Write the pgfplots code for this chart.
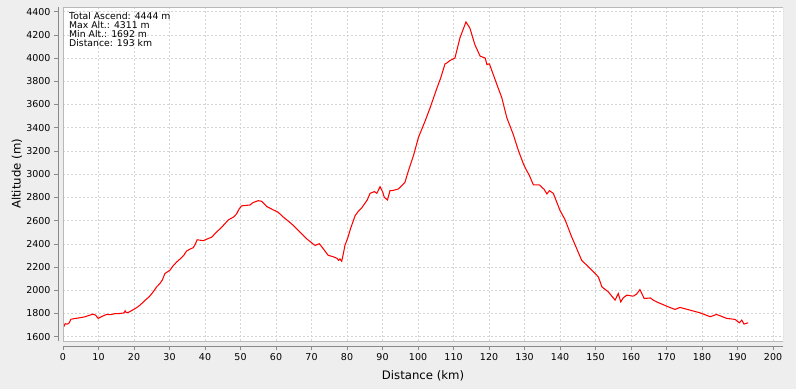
\documentclass[border=0pt]{standalone}
\usepackage{fontspec}
\setmainfont{DejaVu Sans}
\usepackage{pgfplots}
\pgfplotsset{compat=1.18}
\definecolor{bg}{HTML}{EEEEEE}
\definecolor{gridc}{HTML}{D4D4D4}
\definecolor{axc}{HTML}{8A8A8A}
\begin{document}
\begin{tikzpicture}[x=1pt,y=1pt]
\fill[bg] (0,0) rectangle (796,389);
\begin{axis}[
  at={(63pt,48pt)}, anchor=south west,
  width=720pt, height=334pt, scale only axis,
  xmin=0, xmax=202.8, ymin=1563, ymax=4440,
  axis background/.style={fill=white},
  axis lines*=left,
  axis x line shift=5pt, axis y line shift=5pt,
  axis line style={draw=axc, line width=0.8pt, -},
  xtick={0,10,...,200}, ytick={1600,1800,...,4400},
  tick align=outside, major tick length=4pt,
  tick style={draw=axc, line width=0.6pt},
  grid=major,
  major grid style={draw=gridc, dash pattern=on 2pt off 2pt, line width=0.5pt},
  /pgf/number format/assume math mode=true,
  /pgf/number format/1000 sep={},
  tick label style={font=\fontsize{9.5}{10}\selectfont, text=black},
  xlabel={Distance (km)}, ylabel={Altitude (m)},
  every axis x label/.style={at={(axis description cs:0.5,0)}, anchor=center, yshift=-35pt, font=\fontsize{11.7}{13}\selectfont},
  every axis y label/.style={at={(axis description cs:0,0.5)}, xshift=-46pt, rotate=90, anchor=center, font=\fontsize{11.7}{13}\selectfont},
  clip=true,
]
\addplot[red, line width=1.05pt] coordinates {
(0,1710) (0.3,1692) (0.6,1712) (1.2,1708) (1.8,1720) (2.2,1750) (3,1755) (4.5,1762)
(6,1770) (7.6,1786) (8.5,1795) (9.2,1785) (9.9,1758) (11,1775) (12.3,1792) (13.5,1790)
(14.5,1798) (16,1800) (17.2,1805) (17.5,1823) (17.8,1808) (18.4,1809) (19.5,1828)
(20.5,1845) (21.7,1872) (23,1910) (24.3,1945) (25.4,1986) (26.4,2030) (27.3,2058)
(28,2090) (28.7,2144) (30.1,2172) (31,2210) (32,2243) (33,2270) (34,2300) (34.8,2338)
(35.8,2355) (36.7,2367) (37.3,2400) (37.8,2435) (39.5,2427) (40.5,2440) (41.9,2458)
(43.2,2500) (44.7,2543) (46.6,2607) (48,2630) (48.9,2658) (49.6,2700) (50.3,2727)
(52.7,2735) (53.5,2755) (55,2772) (56,2766) (57.4,2721) (59.2,2693) (60.6,2672)
(62.1,2629) (63.5,2595) (64.9,2558) (66.8,2500) (68.6,2444) (70,2410) (71,2386)
(72.2,2401) (73,2370) (74.7,2301) (76,2290) (77.2,2275) (77.6,2258) (78,2270)
(78.5,2250) (79,2320) (79.4,2386) (80.2,2450) (81,2532) (82.3,2644) (83.2,2680)
(84.2,2712) (85.7,2778) (86.5,2835) (87.7,2850) (88.4,2835) (89.3,2892) (90,2850)
(90.5,2801) (91.4,2778) (92.1,2858) (93,2860) (94.5,2873) (96.3,2929) (97.3,3030)
(98.7,3158) (100.1,3315) (102,3458) (103.4,3572) (105.3,3739) (106.4,3830)
(107.6,3950) (108.1,3958) (109,3979) (110.4,4001) (111.8,4173) (113.5,4311)
(114.6,4259) (116,4116) (117.5,4016) (118.9,4001) (119.4,3945) (120.1,3950)
(122.2,3773) (123.6,3658) (125,3487) (126.8,3344) (128.3,3201) (129.7,3087)
(130.6,3030) (131.2,3000) (132.5,2907) (134.2,2907) (135.5,2870) (136.3,2830)
(137,2858) (138.1,2835) (140,2687) (141.4,2609) (143.3,2458) (144.7,2358)
(146.1,2258) (148.5,2187) (150.8,2115) (151.8,2029) (153.6,1986) (155.5,1915)
(156.4,1972) (157.1,1900) (157.8,1935) (158.8,1958) (160.6,1949) (161.5,1965)
(162.5,2006) (163.7,1929) (165.5,1934) (166,1920) (167.2,1900) (170.5,1857)
(172.4,1835) (173.8,1852) (176.6,1829) (179.4,1806) (182.3,1772) (184.1,1792)
(186.9,1758) (189.3,1749) (190.5,1720) (191.2,1743) (191.8,1709) (193,1720)
};
\draw[draw=gray!55, line width=0.8pt] (rel axis cs:0,0) rectangle (rel axis cs:1,1);
\node[anchor=north west, inner sep=0pt, align=left, font=\fontsize{9.3}{9}\selectfont]
  at ([xshift=6pt,yshift=-5pt]rel axis cs:0,1)
  {Total Ascend: 4444 m\\Max Alt.: 4311 m\\Min Alt.: 1692 m\\Distance: 193 km};
\end{axis}
\end{tikzpicture}
\end{document}
